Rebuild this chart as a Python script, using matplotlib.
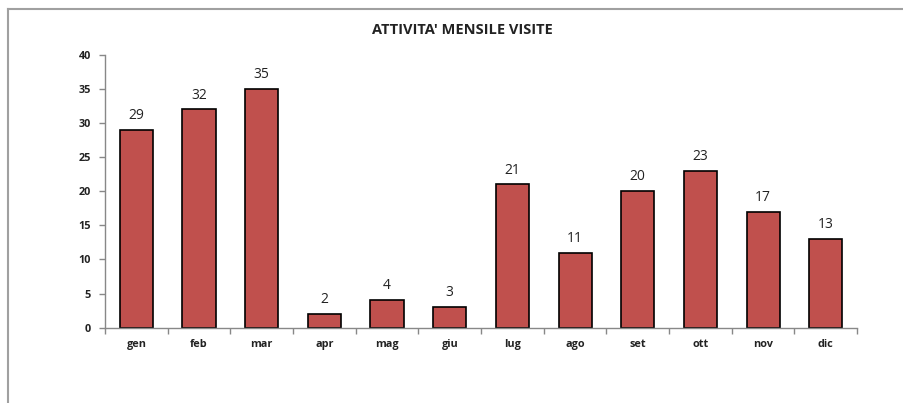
import matplotlib.pyplot as plt
from matplotlib.lines import Line2D

# Monthly visits data
months = ["gen", "feb", "mar", "apr", "mag", "giu", "lug", "ago", "set", "ott", "nov", "dic"]
visits = [29, 32, 35, 2, 4, 3, 21, 11, 20, 23, 17, 13]
yticks = [0, 5, 10, 15, 20, 25, 30, 35, 40]

plt.rcParams['font.family'] = ['Open Sans', 'DejaVu Sans']

fig = plt.figure(figsize=(9.04, 4.03), dpi=100)
ax = fig.add_axes([0.1162, 0.187, 0.832, 0.6767])

xlocs = list(range(len(months)))
bars = ax.bar(xlocs, visits, width=0.53, color="#C0504D", edgecolor="black", linewidth=1.2)
ax.bar_label(bars, labels=[str(v) for v in visits], padding=5, fontsize=10, color="#222222")

ax.set_xlim(-0.5, len(months) - 0.5)
ax.set_ylim(0, 40)
ax.set_yticks(yticks)
ax.set_yticklabels([str(t) for t in yticks], fontsize=7.8, fontweight="bold", color="#222222")

# category labels centered, tick marks between categories
ax.set_xticks(xlocs)
ax.set_xticklabels(months, fontsize=7.8, fontweight="bold", color="#222222")
ax.tick_params(axis="x", length=0, pad=8)
ax.set_xticks([i - 0.5 for i in range(len(months) + 1)], minor=True)
ax.tick_params(axis="x", which="minor", length=4, color="#888888", width=1)
ax.tick_params(axis="y", length=4, color="#888888", width=1, pad=6)

for s in ["top", "right"]:
    ax.spines[s].set_visible(False)
for s in ["left", "bottom"]:
    ax.spines[s].set_color("#888888")
    ax.spines[s].set_linewidth(1)

fig.text(0.511, 0.925, "ATTIVITA' MENSILE VISITE", ha="center", va="center",
         fontsize=10.5, fontweight="bold", color="#222222")

# chart area frame (top and left edges visible)
fig.add_artist(Line2D([8 / 904, 1], [1 - 9 / 403, 1 - 9 / 403], color="#A0A0A0", lw=1.5))
fig.add_artist(Line2D([8 / 904, 8 / 904], [0, 1 - 9 / 403], color="#A0A0A0", lw=1.5))

plt.savefig("out.png", dpi=100)
